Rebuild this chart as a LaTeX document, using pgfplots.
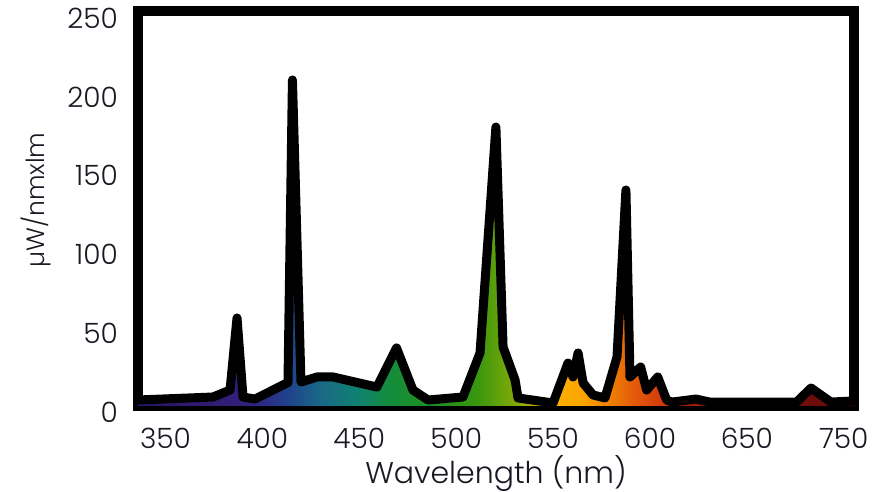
\documentclass[border=0pt]{standalone}
\usepackage{fontspec}
\setmainfont{Poppins}[UprightFont=* Light]
\usepackage{pgfplots}
\pgfplotsset{compat=1.18}
\usepackage{pgfplotstable}

\definecolor{c335}{RGB}{40,20,100}
\definecolor{c385}{RGB}{50,30,120}
\definecolor{c400}{RGB}{45,40,135}
\definecolor{c415}{RGB}{30,70,140}
\definecolor{c430}{RGB}{25,105,135}
\definecolor{c450}{RGB}{15,130,110}
\definecolor{c465}{RGB}{20,140,60}
\definecolor{c490}{RGB}{30,145,30}
\definecolor{c510}{RGB}{55,150,15}
\definecolor{c525}{RGB}{110,165,10}
\definecolor{c535}{RGB}{150,170,0}
\definecolor{c548}{RGB}{255,180,0}
\definecolor{c565}{RGB}{250,165,0}
\definecolor{c578}{RGB}{240,130,0}
\definecolor{c590}{RGB}{230,95,10}
\definecolor{c605}{RGB}{210,60,10}
\definecolor{c615}{RGB}{185,35,10}
\definecolor{c635}{RGB}{130,20,10}
\definecolor{c705}{RGB}{100,10,8}
\definecolor{txt}{RGB}{25,25,35}

\pgfdeclarehorizontalshading{spectrum}{100bp}{
 color(0bp)=(c335); color(25bp)=(c335); color(31.66bp)=(c385);
 color(33.69bp)=(c400); color(35.72bp)=(c415); color(37.75bp)=(c430);
 color(40.46bp)=(c450); color(42.49bp)=(c465); color(45.87bp)=(c490);
 color(48.58bp)=(c510); color(50.60bp)=(c525); color(51.96bp)=(c535);
 color(53.72bp)=(c548); color(56.02bp)=(c565); color(57.78bp)=(c578);
 color(59.40bp)=(c590); color(61.43bp)=(c605); color(62.78bp)=(c615);
 color(65.49bp)=(c635); color(75bp)=(c705); color(100bp)=(c705)}

\pgfplotstableread{
x y
335.8 3.8
374.5 5.7
383.3 10.1
386.9 55.8
390.0 5.7
396.2 4.4
413.2 14.9
415.5 206.6
419.9 15.2
428.2 18.4
436.4 18.4
459.1 12.0
469.2 36.8
477.7 10.1
485.5 3.8
503.5 5.7
512.3 33.6
520.5 176.8
524.2 37.4
530.4 16.5
531.9 5.1
550.0 1.9
557.7 27.2
560.3 18.4
562.9 33.6
565.5 14.6
570.6 7.0
576.8 5.1
583.0 31.1
587.6 136.9
589.7 18.4
595.2 24.7
598.3 10.1
604.0 18.4
608.6 3.8
611.4 2.5
623.7 4.4
630.9 2.5
675.7 2.5
683.1 11.4
693.4 2.5
705.3 3.2
}\spd

\begin{document}
\begin{tikzpicture}
\useasboundingbox (-138pt,-86pt) rectangle (737pt,406pt);
\begin{axis}[
 scale only axis, width=716pt, height=394.5pt,
 xmin=335.8, xmax=705.3, ymin=0, ymax=250,
 axis line style={line width=10pt},
 tick style={draw=none}, major tick length=0pt,
 xtick={350,400,450,500,550,600,650,700},
 xticklabels={350,400,450,500,550,600,650,750},
 ytick={0,50,100,150,200,250},
 /pgf/number format/assume math mode=true,
 tick label style={font=\fontsize{28}{34}\selectfont, inner sep=0pt, text=txt},
 xticklabel style={yshift=-22pt},
 yticklabel style={anchor=east, xshift=-20pt, yshift=-6.5pt},
 xlabel={Wavelength (nm)}, ylabel={µW/nmxlm},
 xlabel style={font=\fontsize{30}{36}\selectfont, text=txt, inner sep=0pt, at={(axis description cs:0.5,-0.1952)}, anchor=base},
 ylabel style={font=\fontsize{25}{30}\selectfont, text=txt, inner sep=0pt, at={(axis description cs:-0.1425,0.522)}, anchor=center},
]
\addplot[draw=none, shade, shading=spectrum] table {\spd} \closedcycle;
\addplot[black, line width=9pt, line join=round, line cap=round] table {\spd};
\end{axis}
\end{tikzpicture}
\end{document}
